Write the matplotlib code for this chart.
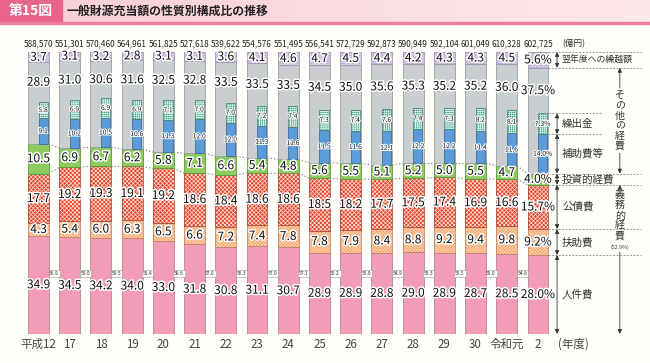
import numpy as np
import matplotlib
matplotlib.use('Agg')
import matplotlib.pyplot as plt
import matplotlib.patheffects as pe
from matplotlib.patches import Rectangle

plt.rcParams['font.family'] = ['Noto Sans CJK JP', 'DejaVu Sans']
plt.rcParams['hatch.linewidth'] = 0.55

# ---- data (構成比 %) ----
years = ['平成12', '17', '18', '19', '20', '21', '22', '23', '24', '25', '26',
         '27', '28', '29', '30', '令和元', '2']
totals = ['588,570', '551,301', '570,460', '564,961', '561,825', '527,618',
          '539,622', '554,576', '551,495', '556,541', '572,729', '592,873',
          '590,949', '592,104', '601,049', '610,328', '602,725']
jinken = [34.9, 34.5, 34.2, 34.0, 33.0, 31.8, 30.8, 31.1, 30.7, 28.9, 28.9, 28.8, 29.0, 28.9, 28.7, 28.5, 28.0]
fujo = [4.3, 5.4, 6.0, 6.3, 6.5, 6.6, 7.2, 7.4, 7.8, 7.8, 7.9, 8.4, 8.8, 9.2, 9.4, 9.8, 9.2]
kosai = [17.7, 19.2, 19.3, 19.1, 19.2, 18.6, 18.4, 18.6, 18.6, 18.5, 18.2, 17.7, 17.5, 17.4, 16.9, 16.6, 15.7]
toushi = [10.5, 6.9, 6.7, 6.2, 5.8, 7.1, 6.6, 5.4, 4.8, 5.6, 5.5, 5.1, 5.2, 5.0, 5.5, 4.7, 4.0]
sonota = [28.9, 31.0, 30.6, 31.6, 32.5, 32.8, 33.5, 33.5, 33.5, 34.5, 35.0, 35.6, 35.3, 35.2, 35.2, 36.0, 37.5]
kurikoshi = [3.7, 3.1, 3.2, 2.8, 3.1, 3.1, 3.6, 4.1, 4.6, 4.7, 4.5, 4.4, 4.2, 4.3, 4.3, 4.5, 5.6]
hojo = [9.1, 10.2, 10.5, 10.6, 11.3, 12.0, 12.0, 11.3, 11.6, 11.5, 11.6, 12.1, 12.2, 12.2, 11.4, 11.6, 14.0]
kuridashi = [5.8, 6.9, 6.9, 6.9, 7.1, 7.0, 7.0, 7.2, 7.4, 7.3, 7.4, 7.6, 7.4, 7.3, 8.2, 8.1, 7.3]
gimu = [56.9, 59.0, 59.5, 59.4, 58.6, 57.0, 56.3, 57.0, 57.1, 55.2, 55.0, 54.9, 55.3, 55.5, 55.0, 54.8]
gimu_last = 52.9

halo = [pe.withStroke(linewidth=2.2, foreground='white')]
halo_s = [pe.withStroke(linewidth=1.5, foreground='white')]

fig = plt.figure(figsize=(6.5, 3.63), dpi=100)
fig.patch.set_facecolor('#fffefa')

# title band
tb = fig.add_axes([0, 1 - 22 / 363, 1, 22 / 363])
grad = np.linspace(0, 1, 256).reshape(1, -1)
tb.imshow(grad, aspect='auto', cmap=matplotlib.colors.LinearSegmentedColormap.from_list(
    'p', ['#f9cdd6', '#fde8eb']), extent=(0, 1, 0, 1))
tb.add_patch(Rectangle((0, 0), 62 / 650, 1, color='#e8648c'))
tb.text(31 / 650, 0.5, '第15図', color='white', fontsize=10, fontweight='bold',
        ha='center', va='center')
tb.text(67 / 650, 0.5, '一般財源充当額の性質別構成比の推移', color='#222', fontsize=8.6,
        fontweight='bold', ha='left', va='center')
tb.set_xlim(0, 1); tb.set_ylim(0, 1)
tb.axis('off')
fig.add_artist(Rectangle((0, 1 - 24 / 363), 1, 2 / 363, transform=fig.transFigure,
                         color='#ec7fa0'))

# main axes (x: 年度 index, y: %)
ax = fig.add_axes([0, 29 / 363, 1, 282 / 363])
ax.set_xlim(-38.5 / 31.22, (650 - 38.5) / 31.22)
ax.set_ylim(0, 100)
ax.axis('off')

x = np.arange(len(years))
w = 0.67
n = len(x)

layers = [
    (jinken, '#f29cb7', None, None, '#b78593'),
    (fujo, '#f59e62', 'x' * 10, '#fcd0ad', '#c08a6a'),
    (kosai, '#e6442b', 'x' * 8, '#ffd8cf', '#b0503a'),
    (toushi, '#8dca5f', None, None, '#5d9a3a'),
    (sonota, '#c9ced1', None, None, '#9a9ea1'),
    (kurikoshi, '#e3d9ee', '+' * 8, '#c4b3da', '#a497b4'),
]
bottom = np.zeros(n)
bottoms = []
for vals, fc, hatch, hc, ec in layers:
    vals = np.array(vals)
    if hatch:
        ax.bar(x, vals, w, bottom=bottom, color=fc, edgecolor=hc, linewidth=0, hatch=hatch)
        ax.bar(x, vals, w, bottom=bottom, fill=False, edgecolor=ec, linewidth=0.6)
    else:
        ax.bar(x, vals, w, bottom=bottom, color=fc, edgecolor=ec, linewidth=0.6)
    bottoms.append(bottom.copy())
    bottom = bottom + vals
tops = bottom

# inset bars (補助費等, 繰出金) inside その他の経費
xi = x + w / 4 - 0.02
wi = w / 2 - 0.04
grey_b = bottoms[4]
hojo_a = np.array(hojo)
kuri_a = np.array(kuridashi)
ax.bar(xi, hojo_a, wi, bottom=grey_b, color='#5b9bd8', edgecolor='#3f6f9c', linewidth=0.6)
ax.bar(xi, kuri_a, wi, bottom=grey_b + hojo_a, color='#38a086', edgecolor='#d4efe6',
       linewidth=0, hatch='+' * 8)
ax.bar(xi, kuri_a, wi, bottom=grey_b + hojo_a, fill=False, edgecolor='#4f8a7a', linewidth=0.6)

# connecting dotted lines at 投資的経費
for lv in (bottoms[3], bottoms[4]):
    for i in range(n - 1):
        ax.plot([x[i] + w / 2, x[i + 1] - w / 2], [lv[i], lv[i + 1]], ':', color='#8a8a8a',
                lw=0.9)

# value labels
def fmt(v, i):
    return f'{v:.1f}%' if i == n - 1 else f'{v:.1f}'

for li, (vals, *_rest) in enumerate(layers):
    for i in range(n):
        v = vals[i]
        if li == 4:
            it = grey_b[i] + hojo_a[i] + kuri_a[i]
            yy = (it + bottoms[5][i]) / 2
        else:
            yy = bottoms[li][i] + v / 2
        ax.text(x[i], yy, fmt(v, i), ha='center', va='center', fontsize=8.6,
                color='#111', path_effects=halo, zorder=5)

for i in range(n):
    ax.text(xi[i], grey_b[i] + hojo_a[i] / 2, fmt(hojo[i], i), ha='center', va='center',
            fontsize=4.8, color='#111', path_effects=halo_s, zorder=5)
    ax.text(xi[i], grey_b[i] + hojo_a[i] + kuri_a[i] / 2, fmt(kuridashi[i], i), ha='center',
            va='center', fontsize=4.8, color='#111', path_effects=halo_s, zorder=5)
    ax.text(x[i], 102.8, totals[i], ha='center', va='center', fontsize=5.9, color='#222')
    ax.text(x[i], -3.6, years[i], ha='center', va='center', fontsize=8.3, color='#444')

for i, g in enumerate(gimu):
    ax.text(x[i] + 0.5, 21.5, f'{g:.1f}', ha='center', va='center', fontsize=3.6,
            color='#333', zorder=6,
            bbox=dict(boxstyle='square,pad=0.15', fc='#fffefa', ec='#999', lw=0.4))

ax.text(17.14, 102.8, '(億円)', ha='center', va='center', fontsize=6.2, color='#333')
ax.text(17.14, -3.6, '(年度)', ha='center', va='center', fontsize=8.3, color='#444')

# right side annotations for the last bar
k = n - 1
xr = x[k] + w / 2
b_vals = [0, bottoms[1][k], bottoms[2][k], bottoms[3][k], bottoms[4][k], bottoms[5][k], tops[k]]
for lv in b_vals:
    ax.plot([xr, 19.3], [lv, lv], color='#9a9a9a', lw=0.7, ls=(0, (2, 1.5)))
in_b = [grey_b[k] + hojo_a[k], grey_b[k] + hojo_a[k] + kuri_a[k]]
for lv in in_b:
    ax.plot([xr, 18.05], [lv, lv], color='#9a9a9a', lw=0.7, ls=(0, (2, 1.5)))

arr = dict(arrowstyle='<|-|>,head_length=0.25,head_width=0.12', lw=0.6, color='#333',
           shrinkA=0, shrinkB=0)
xa = 16.61
segs = [(0, bottoms[1][k]), (bottoms[1][k], bottoms[2][k]), (bottoms[2][k], bottoms[3][k]),
        (bottoms[3][k], bottoms[4][k]), (grey_b[k], in_b[0]), (in_b[0], in_b[1]),
        (bottoms[5][k], tops[k])]
for a, b in segs:
    ax.annotate('', xy=(xa, b), xytext=(xa, a), arrowprops=arr)

xt = 16.77
lab_kw = dict(ha='left', va='center', color='#333')
ax.text(xt, (bottoms[5][k] + tops[k]) / 2, '翌年度への繰越額', fontsize=6.4, **lab_kw)
ax.text(xt, (in_b[0] + in_b[1]) / 2, '繰出金', fontsize=7.6, **lab_kw)
ax.text(xt, (grey_b[k] + in_b[0]) / 2, '補助費等', fontsize=7.6, **lab_kw)
ax.text(xt, (bottoms[3][k] + bottoms[4][k]) / 2, '投資的経費', fontsize=7.6, **lab_kw)
ax.text(xt, (bottoms[2][k] + bottoms[3][k]) / 2, '公債費', fontsize=7.6, **lab_kw)
ax.text(xt, (bottoms[1][k] + bottoms[2][k]) / 2, '扶助費', fontsize=7.6, **lab_kw)
ax.text(xt, bottoms[1][k] / 2, '人件費', fontsize=7.6, **lab_kw)

# brackets
xb = 18.62
one = dict(arrowstyle='-|>,head_length=0.25,head_width=0.12', lw=0.6, color='#333',
           shrinkA=0, shrinkB=0)
top_o, bot_o = bottoms[5][k], bottoms[4][k]
mid_o = (top_o + bot_o) / 2
ax.text(xb, mid_o, '\n'.join('その他の経費'), ha='center', va='center', fontsize=7.2,
        color='#333', linespacing=1.0)
ax.annotate('', xy=(xb, top_o), xytext=(xb, mid_o + 11.5), arrowprops=one)
ax.annotate('', xy=(xb, bot_o), xytext=(xb, mid_o - 11.5), arrowprops=one)

top_g = bottoms[3][k]
ax.text(xb, top_g - 2.0, '\n'.join('義務的経費'), ha='center', va='top', fontsize=7.2,
        color='#333', linespacing=1.0)
ax.text(xb, 30.6, f'({gimu_last:.1f}%)', ha='center', va='center', fontsize=3.8, color='#333')
ax.annotate('', xy=(xb, top_g), xytext=(xb, top_g - 1.2), arrowprops=one)
ax.annotate('', xy=(xb, 0), xytext=(xb, 29.0), arrowprops=one)

fig.savefig('out.png', dpi=100, facecolor=fig.get_facecolor())
